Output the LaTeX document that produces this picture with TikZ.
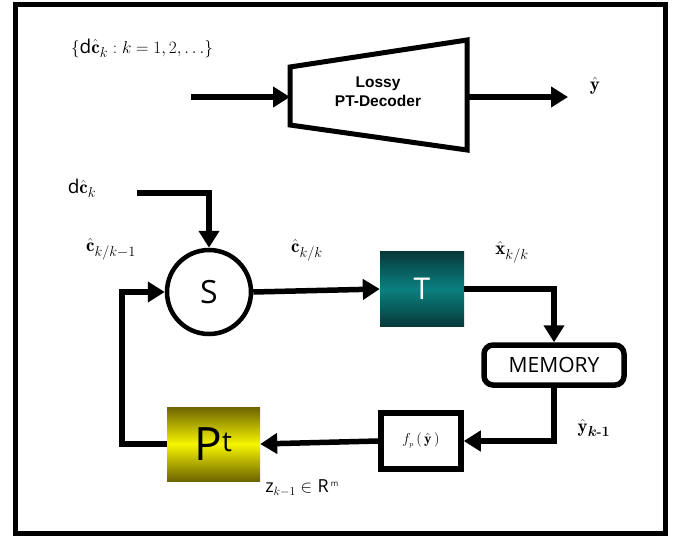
\documentclass[tikz,border=0pt]{standalone}
\usepackage{amsmath,amssymb}
\usepackage{bm}
\usepackage{fontspec}
\setsansfont{Open Sans}
\newfontfamily\arialbf{Liberation Sans}[BoldFont={* Bold}]
\usepackage{xcolor}
\usepackage{tikz}
\usetikzlibrary{arrows.meta}

\definecolor{tealdark}{RGB}{8,56,56}
\definecolor{tealmid}{RGB}{10,128,128}
\definecolor{olivedark}{RGB}{110,100,0}
\definecolor{yellowmid}{RGB}{245,245,0}

\begin{document}
\begin{tikzpicture}[x=1pt,y=-1pt,
  flow/.style={line width=5.5pt,-{Triangle[length=17pt,width=20pt]}},
  mathlbl/.style={font=\fontsize{19}{22}\selectfont},
  boxT/.style={minimum width=84pt,minimum height=75pt,top color=tealdark,bottom color=tealdark,middle color=tealmid,text=white,font=\sffamily\fontsize{30}{32}\selectfont},
  boxP/.style={minimum width=93pt,minimum height=74pt,top color=olivedark,bottom color=olivedark,middle color=yellowmid,font=\sffamily\fontsize{46}{48}\selectfont},
  boxM/.style={draw,line width=5.5pt,rounded corners=9pt,minimum width=140pt,minimum height=40pt,font=\sffamily\fontsize{21}{24}\selectfont},
  boxF/.style={draw,line width=5.5pt,minimum width=80pt,minimum height=56pt,font=\fontsize{14.4}{16}\selectfont}]
\useasboundingbox (0,0) rectangle (676,538);
\draw[line width=5pt] (15,4.5) rectangle (665.5,533.5);

% decoder
\node[mathlbl] (set) at (142,48) {$\{\textsf{d}\hat{\mathbf{c}}_k : k=1,2,\ldots\}$};
\draw[line width=5pt,line join=miter] (290,67) -- (467,40) -- (467,150) -- (290,125) -- cycle;
\node[align=center,font=\arialbf\bfseries\fontsize{15.5}{19}\selectfont] (dec) at (378,92) {Lossy\\PT-Decoder};
\coordinate (decin) at (290,97);
\coordinate (decout) at (467,97);
\coordinate (src) at (191,97);
\node[mathlbl] (yhat) at (595,86) {$\hat{\mathbf{y}}$};
\coordinate (dst) at (568,97);
\draw[flow] (src) -- (decin);
\draw[flow] (decout) -- (dst);

% loop
\node[draw,circle,line width=4.5pt,minimum size=84pt,font=\sffamily\fontsize{32}{34}\selectfont] (sum) at (209,292) {\raisebox{-6pt}{S}};
\node[boxT] (T) at (422,289) {T};
\node[boxM] (mem) at (554,365) {MEMORY};
\node[boxF] (fp) at (421,441) {\raisebox{5pt}{$f_{\scriptscriptstyle p}\,(\,\hat{\mathbf{y}}\,)$}};
\node[boxP] (P) at (213.5,444) {P$^{\text{\fontsize{28}{30}\selectfont t}}$};

\node[mathlbl] (dc) at (82,188) {\textsf{d}$\hat{\mathbf{c}}_k$};
\coordinate (dcin) at (137,193);
\node[mathlbl] (cprev) at (111,249) {$\hat{\mathbf{c}}_{k/k-1}$};
\node[mathlbl] (ccur) at (307,250) {$\hat{\mathbf{c}}_{k/k}$};
\node[mathlbl] (xcur) at (512,252) {$\hat{\mathbf{x}}_{k/k}$};
\node[mathlbl] (yprev) at (594,428) {$\hat{\mathbf{y}}_{\bm{k}\textbf{-}\bm{1}}$};
\node[font=\fontsize{18}{20}\selectfont] (z) at (302,488) {\textsf{z}$_{k-1}\in$ \textsf{R}$^{\,\text{\sffamily\footnotesize m}}$};

\draw[flow] (dcin) -| (sum.north);
\draw[flow] (sum.east) -- (T.west);
\draw[flow] (T.east) -| (mem.north);
\draw[flow] (mem.south) |- (fp.east);
\draw[flow] (fp.west) -- (P.east);
\draw[flow] (P.west) -- ++(-45,0) |- (sum.west);
\end{tikzpicture}
\end{document}
